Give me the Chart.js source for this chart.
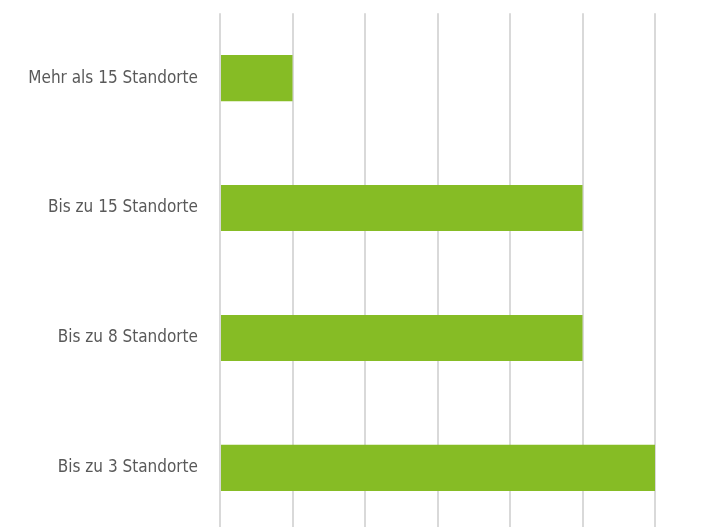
<!DOCTYPE html>
<html>
<head>
<meta charset="utf-8">
<script src="https://cdn.jsdelivr.net/npm/chart.js@4"></script>
<style>
  html, body { margin: 0; padding: 0; background: #fff; overflow: hidden; }
  canvas { display: block; margin-top: -19px; }
</style>
</head>
<body>
<canvas id="chart" width="713" height="584"></canvas>
<script>
// Kategorien und Werte
const kategorien = ['Mehr als 15 Standorte', 'Bis zu 15 Standorte', 'Bis zu 8 Standorte', 'Bis zu 3 Standorte'];
const werte = [1, 5, 5, 6];
const xMax = 6;

const ctx = document.getElementById('chart').getContext('2d');
new Chart(ctx, {
    type: 'bar',
    data: {
        labels: kategorien,
        datasets: [{
            data: werte,
            backgroundColor: '#86bc25',
            borderWidth: 0,
            categoryPercentage: 1,
            barPercentage: 0.355
        }]
    },
    options: {
        indexAxis: 'y',
        responsive: false,
        animation: false,
        layout: { padding: { top: 13, right: 58, bottom: 0, left: 0 } },
        plugins: { legend: { display: false }, tooltip: { enabled: false } },
        scales: {
            x: {
                min: 0,
                max: xMax,
                ticks: { display: false, stepSize: 1 },
                grid: { color: '#d9d9d9', lineWidth: 2, drawTicks: false },
                border: { display: false }
            },
            y: {
                grid: { display: false, drawTicks: false },
                border: { display: false },
                ticks: {
                    color: '#595959',
                    padding: 22,
                    font: { family: "'DejaVu Sans Condensed', 'Roboto Condensed', 'Liberation Sans Narrow', Roboto, sans-serif", size: 17 }
                },
                afterFit: (scale) => { scale.width = 220; }
            }
        }
    }
});
</script>
</body>
</html>
